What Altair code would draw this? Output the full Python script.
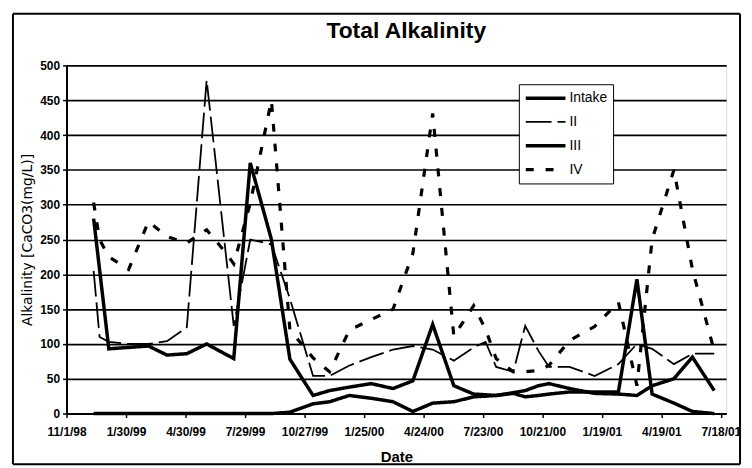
import altair as alt
import pandas as pd

# sampling dates (shared by the four sites)
dates = ["1998-12-12", "1998-12-21", "1999-01-04", "1999-02-03", "1999-03-05", "1999-04-02",
         "1999-05-02", "1999-06-01", "1999-06-30", "1999-07-12", "1999-08-06", "1999-09-07",
         "1999-10-05", "1999-11-09", "1999-12-04", "2000-01-03", "2000-02-05", "2000-03-09",
         "2000-04-08", "2000-05-08", "2000-06-09", "2000-07-09", "2000-07-27", "2000-08-12",
         "2000-09-07", "2000-09-25", "2000-10-15", "2000-10-31", "2000-12-01", "2001-01-08",
         "2001-02-13", "2001-03-13", "2001-04-05", "2001-05-08", "2001-06-05", "2001-07-08"]

intake = [0, 0, 0, 0, 0, 0, 0, 0, 0, 0, 0, 0, 2, 14, 17, 26, 22, 17, 3, 15, 17, 24, 25, 26,
          29, 24, 26, 28, 31, 31, 31, 193, 28, 15, 3, 0]
site_ii = [205, 110, 103, 100, 100, 104, 124, 479, None, 126, 250, 243, 165, 54, 54, 69, 81, 92,
           97, 92, 76, 95, 103, 67, 60, 126, 90, 67, 67, 54, 71, 100, 93, 71, 86, 86]
site_iii = [280, None, 93, 95, 97, 84, 86, 100, 85, 79, 360, 250, 78, 26, 33, 38, 43, 36, 47,
            128, 40, 28, 27, 26, 30, 33, 40, 43, 36, 29, 28, 26, 40, 50, 81, 33]
site_iv = [303, 250, 225, 207, 276, 254, 245, 264, 231, 215, 302, 450, 120, 80, 60, 120, 135,
           150, 230, 431, 111, 155, 121, 79, 60, 60, 62, 69, 105, 125, 160, 40, 250, 350, 207, 90]

series_names = ["Intake", "II", "III", "IV"]
tick_dates = [(1998, 11, 1), (1999, 1, 30), (1999, 4, 30), (1999, 7, 29), (1999, 10, 27),
              (2000, 1, 25), (2000, 4, 24), (2000, 7, 23), (2000, 10, 21), (2001, 1, 19),
              (2001, 4, 19), (2001, 7, 18)]
y_ticks = [0, 50, 100, 150, 200, 250, 300, 350, 400, 450, 500]

rows = []
for name, vals in zip(series_names, [intake, site_ii, site_iii, site_iv]):
    for d, v in zip(dates, vals):
        if v is not None:
            rows.append({"Date": d, "Alkalinity": v, "Series": name})
df = pd.DataFrame(rows)

FONT = "Liberation Sans"
WIDE = "DejaVu Sans"

legend_cfg = dict(title=None, orient="none", legendX=456, legendY=19,
                  fillColor="white", strokeColor="black", padding=5,
                  symbolType="stroke", symbolSize=1600, symbolStrokeColor="black",
                  clipHeight=18, rowPadding=6, labelFont=FONT, labelFontSize=14,
                  labelColor="black", labelOffset=2)

lines = alt.Chart(df).mark_line(color="black", strokeJoin="miter", strokeMiterLimit=4).encode(
    x=alt.X("Date:T",
            scale=alt.Scale(type="utc", nice=False,
                            domain=[alt.DateTime(year=1998, month=11, date=1, utc=True),
                                    alt.DateTime(year=2001, month=7, date=26, utc=True)]),
            axis=alt.Axis(values=[alt.DateTime(year=y, month=m, date=d, utc=True) for y, m, d in tick_dates],
                          labelExpr="utcFormat(datum.value, '%-m/%-d/%y')",
                          grid=False, title="Date", domainColor="black", domainWidth=2,
                          tickColor="black", tickSize=4, tickWidth=1.5, labelPadding=9,
                          labelFont=FONT, labelFontSize=12, labelFontWeight="bold",
                          labelColor="black", labelOverlap=False, labelFlush=False,
                          titleFont=FONT, titleFontSize=15, titleFontWeight="bold",
                          titleColor="black", titlePadding=12)),
    y=alt.Y("Alkalinity:Q",
            scale=alt.Scale(domain=[0, 500], nice=False),
            axis=alt.Axis(values=y_ticks, title="Alkalinity [CaCO3(mg/L)]",
                          grid=True, gridColor="black", gridWidth=1.6, gridOpacity=1,
                          domainColor="black", domainWidth=2, tickColor="black",
                          tickSize=4, tickWidth=1.5, labelPadding=3,
                          labelFont=FONT, labelFontSize=12, labelFontWeight="bold",
                          labelColor="black", titleFont=WIDE, titleFontSize=14,
                          titleFontWeight="normal", titleColor="black", titlePadding=5)),
    strokeDash=alt.StrokeDash("Series:N",
                              scale=alt.Scale(domain=series_names,
                                              range=[[1, 0], [26, 6], [1, 0], [8, 12]]),
                              legend=alt.Legend(**legend_cfg)),
    strokeWidth=alt.StrokeWidth("Series:N",
                                scale=alt.Scale(type="ordinal", domain=series_names,
                                                range=[3.5, 1.8, 3.5, 3.2]),
                                legend=alt.Legend(**legend_cfg)),
    order=alt.Order("Date:T"),
)

frame_df = pd.DataFrame({"k": [0]})
left_edge = alt.Chart(frame_df).mark_rule(color="black", strokeWidth=2).encode(
    x=alt.value(-54), y=alt.value(-52), y2=alt.value(402))
right_edge = alt.Chart(frame_df).mark_rule(color="black", strokeWidth=2).encode(
    x=alt.value(679), y=alt.value(-52), y2=alt.value(402))
top_edge = alt.Chart(frame_df).mark_rule(color="black", strokeWidth=2).encode(
    x=alt.value(-54), x2=alt.value(679), y=alt.value(-52))
bottom_edge = alt.Chart(frame_df).mark_rule(color="black", strokeWidth=2).encode(
    x=alt.value(-54), x2=alt.value(679), y=alt.value(402))

chart = alt.layer(lines, left_edge, right_edge, top_edge, bottom_edge).properties(
    width=665, height=351,
    title=alt.TitleParams("Total Alkalinity", font=FONT, fontSize=23, fontWeight="bold",
                          color="black", anchor="middle", offset=0, dx=10, dy=30),
    autosize=alt.AutoSizeParams(type="none"),
    padding={"left": 59, "top": 56, "right": 18, "bottom": 53},
).configure_view(stroke="black", strokeWidth=1.5).configure(background="white")

chart.save("out.html", embed_options={"renderer": "svg", "actions": False})
